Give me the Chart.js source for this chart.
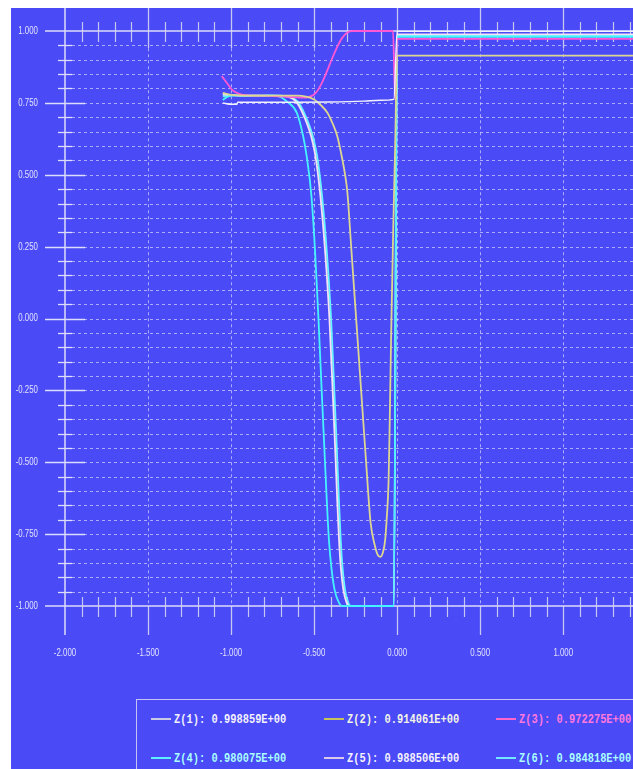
<!DOCTYPE html>
<html lang="en">
<head>
  <meta charset="UTF-8" />
  <title>Z profiles</title>
  <style>
    html, body {
      margin: 0;
      padding: 0;
      background: #ffffff;
      width: 633px;
      height: 769px;
      overflow: hidden;
    }

    #panel {
      position: absolute;
      left: 11px;
      top: 8px;
      width: 622px;
      height: 761px;
      background: #4a4af6;
      overflow: hidden;
    }

    #plot {
      position: absolute;
      left: 0;
      top: 0;
    }

    #legend {
      position: absolute;
      left: 125px;
      top: 691px;
      width: 620px;
      height: 100px;
      border-top: 1.5px solid #c4c4f4;
      border-left: 1.5px solid #c4c4f4;
    }

    .item {
      position: absolute;
      display: flex;
      align-items: center;
      height: 20px;
    }

    .swatch {
      width: 20px;
      height: 2px;
      margin-right: 3px;
    }

    .label {
      font-family: 'Liberation Mono', 'DejaVu Sans Mono', monospace;
      font-weight: bold;
      font-size: 13px;
      transform: scaleX(0.8);
      transform-origin: left center;
      white-space: nowrap;
    }
  </style>
</head>
<body>
  <div id="panel">
    <canvas id="plot" width="622" height="682"></canvas>
    <div id="legend"></div>
  </div>

  <script src="https://cdn.jsdelivr.net/npm/chart.js"></script>
  <script>
    // axis ticks
    const xTickValues = [-2, -1.5, -1, -0.5, 0, 0.5, 1];
    const xTickLabels = ['-2.000', '-1.500', '-1.000', '-0.500', '0.000', '0.500', '1.000'];
    const yTickValues = [1, 0.75, 0.5, 0.25, 0, -0.25, -0.5, -0.75, -1];
    const yTickLabels = ['1.000', '0.750', '0.500', '0.250', '0.000', '-0.250', '-0.500', '-0.750', '-1.000'];

    // series
    const seriesNames = ['Z(1)', 'Z(2)', 'Z(3)', 'Z(4)', 'Z(5)', 'Z(6)'];

    const z1X = [-1.05, -1.0, -0.965, -0.96, -0.6, -0.4, -0.2, -0.1, -0.02, 0, 1.42];
    const z1Y = [0.75, 0.745, 0.745, 0.752, 0.752, 0.753, 0.756, 0.759, 0.762, 0.998859, 0.998859];

    const z2X = [-1.05, -1.0, -0.95, -0.8, -0.6, -0.55, -0.5, -0.46, -0.42, -0.39, -0.36, -0.33, -0.315, -0.30,
                 -0.277, -0.247, -0.217, -0.187, -0.16, -0.133, -0.118, -0.102, -0.086, -0.072, -0.062, -0.052,
                 -0.046, -0.036, -0.024, -0.012, 0, 1.42];
    const z2Y = [0.785, 0.778, 0.776, 0.775, 0.775, 0.772, 0.762, 0.742, 0.716, 0.68, 0.633, 0.553, 0.505, 0.44,
                 0.25, 0.0, -0.25, -0.5, -0.71, -0.793, -0.821, -0.829, -0.814, -0.769, -0.688, -0.571,
                 -0.4, -0.05, 0.3, 0.6, 0.914061, 0.914061];

    const z3X = [-1.056, -1.026, -0.996, -0.966, -0.928, -0.8, -0.6, -0.56, -0.53, -0.5, -0.476, -0.45, -0.42,
                 -0.39, -0.36, -0.33, -0.30, -0.27, -0.025, -0.012, 0, 1.42];
    const z3Y = [0.843, 0.82, 0.797, 0.785, 0.778, 0.775, 0.769, 0.768, 0.771, 0.779, 0.796, 0.823, 0.864,
                 0.907, 0.946, 0.977, 0.995, 1.0, 1.0, 0.76, 0.972275, 0.972275];

    const z4X = [-1.05, -1.02, -0.98, -0.9, -0.8, -0.75, -0.70, -0.665, -0.604, -0.566, -0.545, -0.516, -0.493,
                 -0.474, -0.452, -0.438, -0.424, -0.411, -0.397, -0.377, -0.350, -0.33, -0.02, 0, 1.42];
    const z4Y = [0.76, 0.772, 0.776, 0.775, 0.775, 0.775, 0.77, 0.755, 0.715, 0.634, 0.565, 0.425, 0.22,
                 0.0, -0.282, -0.456, -0.63, -0.769, -0.861, -0.943, -0.989, -1.0, -1.0, 0.980075, 0.980075];

    const z5X = [-1.05, -1.0, -0.9, -0.75, -0.65, -0.61, -0.57, -0.518, -0.492, -0.462, -0.432, -0.408,
                 -0.386, -0.373, -0.361, -0.35, -0.34, -0.324, -0.304, -0.288, -0.02, 0, 1.42];
    const z5Y = [0.78, 0.777, 0.775, 0.775, 0.77, 0.755, 0.715, 0.634, 0.565, 0.425, 0.22, 0.0,
                 -0.282, -0.456, -0.63, -0.769, -0.861, -0.943, -0.989, -1.0, -1.0, 0.988506, 0.988506];

    const z6X = [-1.05, -1.02, -0.98, -0.9, -0.70, -0.64, -0.60, -0.56, -0.508, -0.482, -0.452, -0.422,
                 -0.398, -0.376, -0.363, -0.351, -0.340, -0.330, -0.314, -0.294, -0.278, -0.02, 0, 1.42];
    const z6Y = [0.773, 0.775, 0.776, 0.775, 0.775, 0.77, 0.755, 0.715, 0.634, 0.565, 0.425, 0.22,
                 0.0, -0.282, -0.456, -0.63, -0.769, -0.861, -0.943, -0.989, -1.0, -1.0, 0.984818, 0.984818];

    const seriesX = [z1X, z2X, z3X, z4X, z5X, z6X];
    const seriesY = [z1Y, z2Y, z3Y, z4Y, z5Y, z6Y];

    const lineColors = ['#f2f2ff', '#dcd690', '#ff58d6', '#46f2ff', '#f2e2f4', '#66f6ff'];
    const swatchColors = ['#cacae6', '#c8c45c', '#ff66cc', '#5ef0ff', '#dcc8ea', '#72e8ff'];
    const textColors = ['#f4f2ff', '#f4f4e6', '#ff78dc', '#aaffff', '#f6f2ff', '#aaffff'];

    const datasets = seriesNames.map((name, i) => ({
      label: name,
      data: seriesX[i].map((x, j) => ({ x: x, y: seriesY[i][j] })),
      borderColor: lineColors[i],
      borderWidth: i === 0 ? 1.4 : 1.8,
      pointRadius: 0,
      cubicInterpolationMode: 'monotone',
      clip: 6
    }));

    // axes, ticks and dashed grid drawn on the scales
    const axesPlugin = {
      id: 'plotAxes',
      beforeDatasetsDraw(chart) {
        const { ctx, chartArea: a, scales: { x, y } } = chart;
        const yTop = y.getPixelForValue(1);
        const yBot = y.getPixelForValue(-1);
        const sharp = (p) => Math.round(p) + 0.5;

        ctx.save();
        ctx.lineWidth = 1;

        // dashed grid
        ctx.strokeStyle = 'rgba(214,214,255,0.7)';
        ctx.setLineDash([3, 3]);
        for (let i = -19; i <= 19; i++) {
          const py = sharp(y.getPixelForValue(i * 0.05));
          ctx.beginPath();
          ctx.moveTo(a.left + 7, py);
          ctx.lineTo(a.right, py);
          ctx.stroke();
        }
        xTickValues.slice(1).forEach(v => {
          const px = sharp(x.getPixelForValue(v));
          ctx.beginPath();
          ctx.moveTo(px, y.getPixelForValue(0.94));
          ctx.lineTo(px, yBot);
          ctx.stroke();
        });
        ctx.setLineDash([]);

        // major x lines outside the box
        ctx.strokeStyle = '#c6c6f2';
        ctx.lineWidth = 1.3;
        xTickValues.slice(1).forEach(v => {
          const px = sharp(x.getPixelForValue(v));
          ctx.beginPath();
          ctx.moveTo(px, 0);
          ctx.lineTo(px, y.getPixelForValue(0.94));
          ctx.moveTo(px, yBot);
          ctx.lineTo(px, yBot + 29);
          ctx.stroke();
        });

        // minor x ticks on both horizontal axes
        ctx.lineWidth = 1.2;
        for (let i = -19; i <= 14; i++) {
          if (i % 5 === 0) continue;
          const px = sharp(x.getPixelForValue(i * 0.1));
          ctx.beginPath();
          ctx.moveTo(px, yTop - 9);
          ctx.lineTo(px, yTop + 11);
          ctx.moveTo(px, yBot - 9);
          ctx.lineTo(px, yBot + 11);
          ctx.stroke();
        }

        // axis lines
        ctx.strokeStyle = '#dcdcfc';
        ctx.lineWidth = 1.5;
        ctx.beginPath();
        ctx.moveTo(a.left - 20, yTop);
        ctx.lineTo(a.right, yTop);
        ctx.moveTo(a.left - 20, yBot);
        ctx.lineTo(a.right, yBot);
        ctx.moveTo(a.left, 0);
        ctx.lineTo(a.left, yBot + 29);
        ctx.stroke();

        // y ticks
        ctx.lineWidth = 1.3;
        for (let i = -19; i <= 19; i++) {
          const py = sharp(y.getPixelForValue(i * 0.05));
          const len = i % 5 === 0 ? 20 : 7;
          ctx.beginPath();
          ctx.moveTo(a.left - len, py);
          ctx.lineTo(a.left + len, py);
          ctx.stroke();
        }

        // tick labels
        ctx.fillStyle = '#e2e2ff';
        ctx.font = '10.5px "Liberation Sans", Arial, sans-serif';
        ctx.textBaseline = 'middle';
        const drawLabel = (text, px, py, align) => {
          ctx.save();
          ctx.translate(px, py);
          ctx.scale(0.75, 1);
          ctx.textAlign = align;
          ctx.fillText(text, 0, 0);
          ctx.restore();
        };
        yTickValues.forEach((v, i) => drawLabel(yTickLabels[i], a.left - 27, y.getPixelForValue(v), 'right'));
        xTickValues.forEach((v, i) => drawLabel(xTickLabels[i], x.getPixelForValue(v), yBot + 47, 'center'));

        ctx.restore();
      }
    };

    new Chart(document.getElementById('plot').getContext('2d'), {
      type: 'line',
      data: { datasets: datasets },
      options: {
        responsive: false,
        animation: false,
        devicePixelRatio: 1,
        layout: { padding: { left: 54, top: 23, right: 0, bottom: 84 } },
        scales: {
          x: { type: 'linear', min: -2, max: 1.42, display: false },
          y: { type: 'linear', min: -1, max: 1, display: false }
        },
        plugins: {
          legend: { display: false },
          tooltip: { enabled: false }
        }
      },
      plugins: [axesPlugin]
    });

    // legend box: final value of each series
    const legend = document.getElementById('legend');
    const colLeft = [14, 187, 359];
    const rowTop = [9, 48];
    seriesNames.forEach((name, i) => {
      const last = seriesY[i][seriesY[i].length - 1];
      const item = document.createElement('div');
      item.className = 'item';
      item.style.left = colLeft[i % 3] + 'px';
      item.style.top = rowTop[Math.floor(i / 3)] + 'px';
      item.innerHTML = '<span class="swatch" style="background:' + swatchColors[i] + '"></span>' +
        '<span class="label" style="color:' + textColors[i] + '">' + name + ': ' + last.toFixed(6) + 'E+00</span>';
      legend.appendChild(item);
    });
  </script>
</body>
</html>
